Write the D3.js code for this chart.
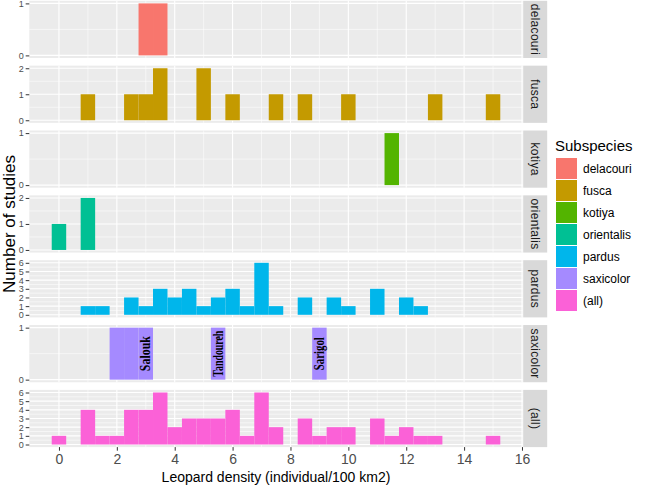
<!DOCTYPE html>
<html>
<head>
<meta charset="utf-8">
<script src="https://cdn.jsdelivr.net/npm/d3@7"></script>
<style>
  html, body { margin: 0; padding: 0; background: #fff; }
  svg { display: block; font-family: "Liberation Sans", Arial, sans-serif; }
</style>
</head>
<body>
<svg id="chart" width="647" height="487"></svg>
<script>
// ---- data (bin centre, count); bins are 0.5 wide ----
const subspecies = ["delacouri", "fusca", "kotiya", "orientalis", "pardus", "saxicolor", "(all)"];
const delacouri = [[3,1],[3.5,1]];
const fusca = [[1,1],[2.5,1],[3,1],[3.5,2],[5,2],[6,1],[7.5,1],[8.5,1],[10,1],[13,1],[15,1]];
const kotiya = [[11.5,1]];
const orientalis = [[0,1],[1,2]];
const pardus = [[1,1],[1.5,1],[2.5,2],[3,1],[3.5,3],[4,2],[4.5,3],[5,1],[5.5,2],[6,3],[6.5,1],[7,6],[7.5,1],[8.5,2],[9.5,2],[10,1],[11,3],[12,2],[12.5,1]];
const saxicolor = [[2,1],[2.5,1],[3,1],[5.5,1],[9,1]];
const allSubspecies = [[0,1],[1,4],[1.5,1],[2,1],[2.5,4],[3,4],[3.5,6],[4,2],[4.5,3],[5,3],[5.5,3],[6,4],[6.5,1],[7,6],[7.5,2],[8.5,3],[9,1],[9.5,2],[10,2],[11,3],[11.5,1],[12,2],[12.5,1],[13,1],[15,1]];
const binWidth = 0.5;
const xTicks = [0, 2, 4, 6, 8, 10, 12, 14, 16];
const siteLabels = ["Salouk", "Tandoureh", "Sarigol"];
const siteX = [3, 5.5, 9];
const siteY = [0.5, 0.5, 0.5];
const xTitle = "Leopard density (individual/100 km2)";
const yTitle = "Number of studies";
const legendTitle = "Subspecies";

const seriesList = [delacouri, fusca, kotiya, orientalis, pardus, saxicolor, allSubspecies];
const palette = ["#F8766D", "#C49A00", "#53B400", "#00C094", "#00B6EB", "#A58AFF", "#FB61D7"];

// ---- layout ----
const svg = d3.select("#chart");
const L = 29.3, R = 522.7;
const top0 = 0.8, step = 64.85, ph = 57.2;
const stripW = 24;

const xMin = -0.25, xMax = 15.25;
const xPad = (xMax - xMin) * 0.05;
const x = d3.scaleLinear().domain([xMin - xPad, xMax + xPad]).range([L, R]);

const color = d3.scaleOrdinal().domain(subspecies).range(palette);
const siteLen = [35, 46, 33];

seriesList.forEach((data, i) => {
  const name = subspecies[i];
  const pt = top0 + i * step;
  const pb = pt + ph;
  const ymax = d3.max(data, d => d[1]);
  const y = d3.scaleLinear().domain([-0.05 * ymax, ymax * 1.05]).range([pb, pt]);
  const g = svg.append("g");

  g.append("rect").attr("x", L).attr("y", pt).attr("width", R - L).attr("height", ph).attr("fill", "#EBEBEB");

  // minor grid
  const yMinor = d3.range(0.5, ymax, 1);
  g.selectAll(".ymin").data(yMinor).enter().append("line")
    .attr("x1", L).attr("x2", R).attr("y1", d => y(d)).attr("y2", d => y(d))
    .attr("stroke", "#fff").attr("stroke-width", 0.55);
  const xMinor = d3.range(1, 16, 2);
  g.selectAll(".xmin").data(xMinor).enter().append("line")
    .attr("y1", pt).attr("y2", pb).attr("x1", d => x(d)).attr("x2", d => x(d))
    .attr("stroke", "#fff").attr("stroke-width", 0.55);
  // major grid
  const yMajor = d3.range(0, ymax + 1, 1);
  g.selectAll(".ymaj").data(yMajor).enter().append("line")
    .attr("x1", L).attr("x2", R).attr("y1", d => y(d)).attr("y2", d => y(d))
    .attr("stroke", "#fff").attr("stroke-width", 1.1);
  g.selectAll(".xmaj").data(xTicks).enter().append("line")
    .attr("y1", pt).attr("y2", pb).attr("x1", d => x(d)).attr("x2", d => x(d))
    .attr("stroke", "#fff").attr("stroke-width", 1.1);

  // bars
  g.selectAll(".bar").data(data).enter().append("rect")
    .attr("x", d => x(d[0] - binWidth / 2))
    .attr("width", d => x(d[0] + binWidth / 2) - x(d[0] - binWidth / 2))
    .attr("y", d => y(d[1]))
    .attr("height", d => y(0) - y(d[1]))
    .attr("fill", color(name));

  // y axis
  const ya = d3.axisLeft(y).tickValues(yMajor).tickSize(3.6).tickPadding(2).tickFormat(d3.format("d"));
  const yg = g.append("g").attr("transform", `translate(${L},0)`).call(ya);
  yg.select(".domain").remove();
  yg.selectAll(".tick line").attr("stroke", "#333333");
  yg.selectAll(".tick text").attr("fill", "#4D4D4D").style("font-size", "9px").style("font-family", "Liberation Sans, Arial, sans-serif");

  // strip
  g.append("rect").attr("x", R + 0.5).attr("y", pt).attr("width", stripW).attr("height", ph).attr("fill", "#D9D9D9");
  g.append("text")
    .attr("transform", `translate(${R + 0.5 + stripW / 2},${pt + ph / 2}) rotate(90)`)
    .attr("text-anchor", "middle").attr("dominant-baseline", "central")
    .attr("fill", "#1A1A1A").style("font-size", "12px").style("letter-spacing", "0.3px")
    .text(name);

  if (name === "saxicolor") {
    siteLabels.forEach((t, k) => {
      g.append("text")
        .attr("transform", `translate(${x(siteX[k])},${y(siteY[k])}) rotate(-90)`)
        .attr("text-anchor", "middle").attr("dominant-baseline", "central")
        .attr("textLength", siteLen[k]).attr("lengthAdjust", "spacingAndGlyphs")
        .attr("fill", "#000").style("font-family", "Liberation Serif, Times New Roman, serif")
        .style("font-weight", "bold").style("font-size", "14px")
        .text(t);
    });
  }

  if (i === seriesList.length - 1) {
    const xa = d3.axisBottom(x).tickValues(xTicks).tickSize(3.6).tickPadding(3).tickFormat(d3.format("d"));
    const xg = svg.append("g").attr("transform", `translate(0,${pb})`).call(xa);
    xg.select(".domain").remove();
    xg.selectAll(".tick line").attr("stroke", "#333333");
    xg.selectAll(".tick text").attr("fill", "#4D4D4D").style("font-size", "14px").style("font-family", "Liberation Sans, Arial, sans-serif");
  }
});

// axis titles
svg.append("text").attr("x", (L + R) / 2).attr("y", 482).attr("text-anchor", "middle")
  .attr("fill", "#000").style("font-size", "14px").text(xTitle);
const midY = top0 + (6 * step + ph) / 2;
svg.append("text").attr("transform", `translate(14.5,${midY}) rotate(-90)`).attr("text-anchor", "middle")
  .attr("fill", "#000").style("font-size", "17px").text(yTitle);

// legend
const lg = svg.append("g");
lg.append("text").attr("x", 555).attr("y", 151).attr("fill", "#000").style("font-size", "15px").text(legendTitle);
subspecies.forEach((s, k) => {
  const ky = 158 + k * 22;
  lg.append("rect").attr("x", 556).attr("y", ky).attr("width", 21).attr("height", 21).attr("fill", color(s));
  lg.append("text").attr("x", 583).attr("y", ky + 10.5).attr("dominant-baseline", "central")
    .attr("fill", "#000").style("font-size", "12px").text(s);
});
</script>
</body>
</html>
